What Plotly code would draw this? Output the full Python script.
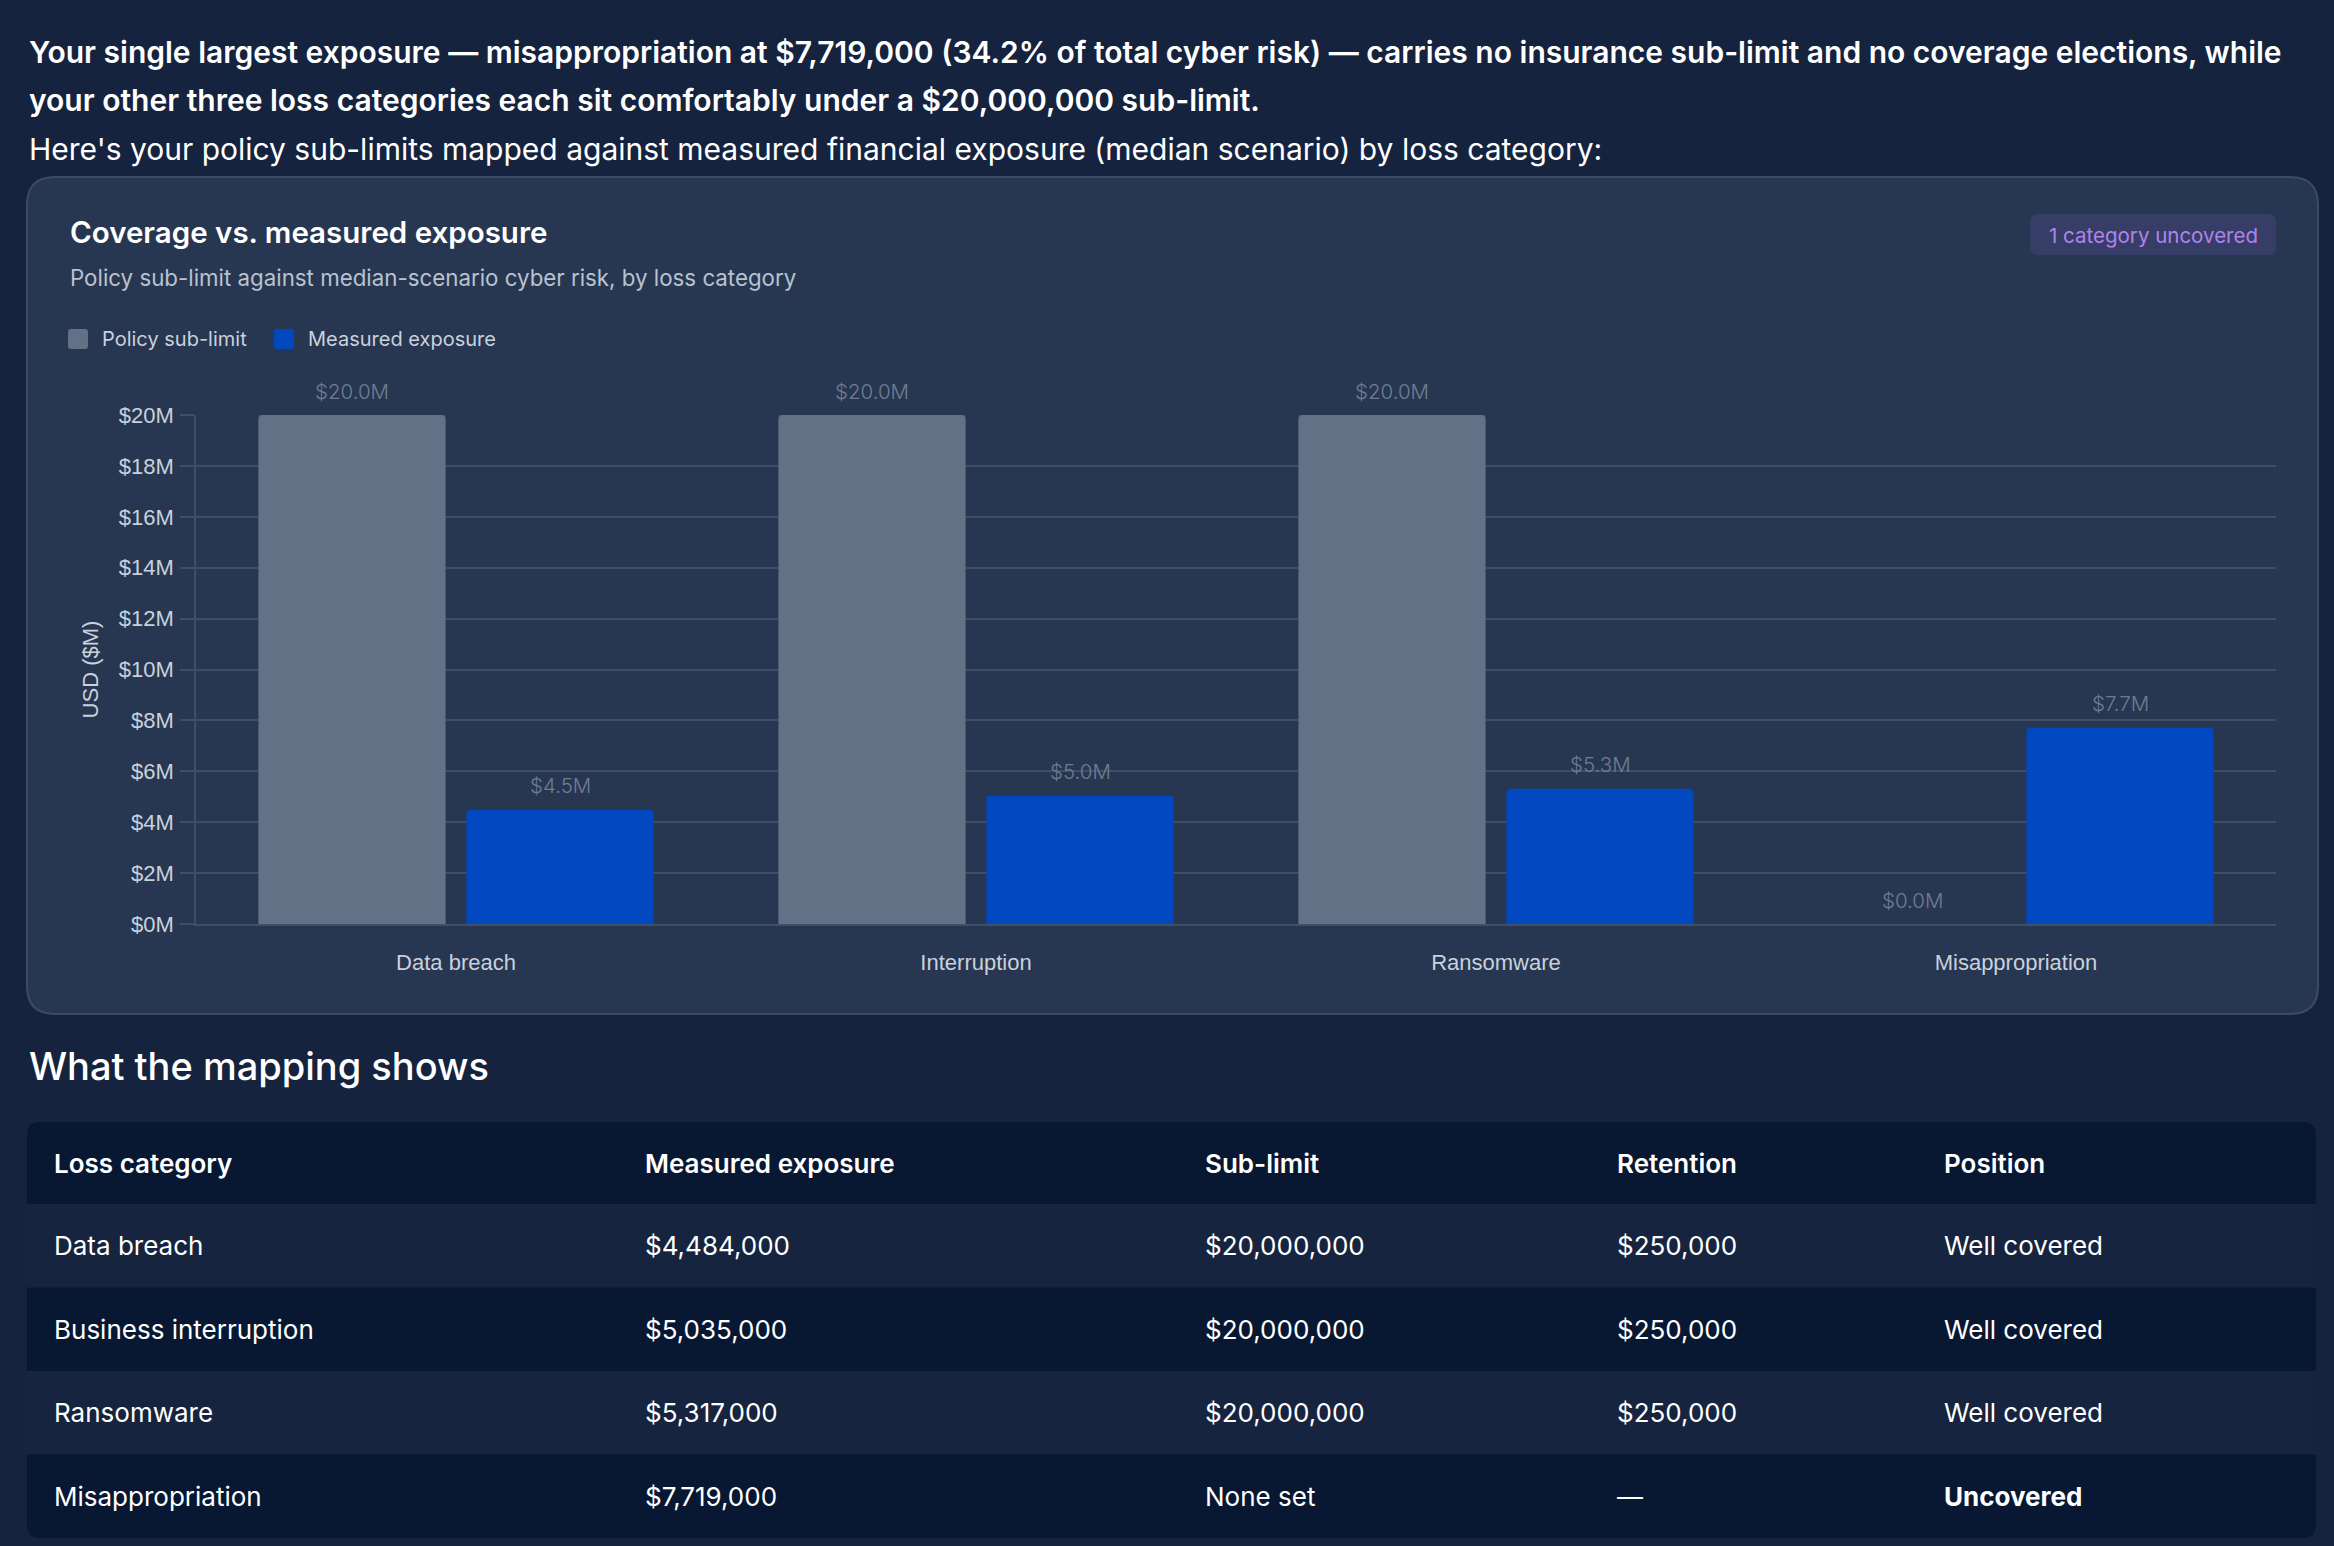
import plotly.graph_objects as go

W, H = 2334, 1546

# chart data ($M)
categories = ["Data breach", "Interruption", "Ransomware", "Misappropriation"]
series_names = ["Policy sub-limit", "Measured exposure"]
sub_limit = [20.0, 20.0, 20.0, 0.0]
measured = [4.484, 5.035, 5.317, 7.719]
y_ticks = [0, 2, 4, 6, 8, 10, 12, 14, 16, 18, 20]

# table data
table_header = ["Loss category", "Measured exposure", "Sub-limit", "Retention", "Position"]
table_category = ["Data breach", "Business interruption", "Ransomware", "Misappropriation"]
table_exposure = ["$4,484,000", "$5,035,000", "$5,317,000", "$7,719,000"]
table_sublimit = ["$20,000,000", "$20,000,000", "$20,000,000", "None set"]
table_retention = ["$250,000", "$250,000", "$250,000", "—"]
table_position = ["Well covered", "Well covered", "Well covered", "<b>Uncovered</b>"]

PAGE_BG = "#15233f"
CARD_BG = "#283751"
CARD_LINE = "#3d4a63"
GRID = "#3f4d66"
GREY_BAR = "#647086"
BLUE_BAR = "#0047c0"
AXIS_TXT = "#c9d1dc"
VALUE_TXT = "#6f7d93"
TABLE_DARK = "#081833"
TABLE_LIGHT = "#16243f"
BADGE_BG = "#363e67"
BADGE_TXT = "#b083ec"
TEXT_FONT = "Inter"
AXIS_FONT = "Liberation Sans"


def px(x):
    return x / W


def py(y):
    return 1 - y / H


def rounded_rect(x0, y0, x1, y1, r):
    # corners drawn with quadratic curves, built in pixels then mapped to paper
    pts = [
        ("M", [(x0 + r, y0)]),
        ("L", [(x1 - r, y0)]),
        ("Q", [(x1, y0), (x1, y0 + r)]),
        ("L", [(x1, y1 - r)]),
        ("Q", [(x1, y1), (x1 - r, y1)]),
        ("L", [(x0 + r, y1)]),
        ("Q", [(x0, y1), (x0, y1 - r)]),
        ("L", [(x0, y0 + r)]),
        ("Q", [(x0, y0), (x0 + r, y0)]),
    ]
    path = ""
    for cmd, coords in pts:
        path += cmd + " " + " ".join(f"{px(a):.5f},{py(b):.5f}" for a, b in coords) + " "
    return path + "Z"


def text(x, y, s, size, color="white", weight=400, anchor="left"):
    return dict(x=px(x), y=py(y), xref="paper", yref="paper", text=s, showarrow=False,
                xanchor=anchor, yanchor="middle",
                font=dict(family=TEXT_FONT, size=size, color=color, weight=weight))


x_idx = list(range(len(categories)))
bar_colors = [GREY_BAR, BLUE_BAR]

fig = go.Figure()
for name, vals, col in zip(series_names, [sub_limit, measured], bar_colors):
    fig.add_trace(go.Bar(
        x=x_idx, y=vals, name=name,
        marker=dict(color=col, line=dict(width=0)),
        hoverinfo="skip", showlegend=False,
    ))

annotations = []
shapes = []

# value labels above each bar (group slot = 0.4 wide, bars at i -/+ 0.2)
for i in x_idx:
    for off, val in ((-0.2, sub_limit[i]), (0.2, measured[i])):
        annotations.append(dict(
            x=i + off, y=val, xref="x", yref="y",
            text=f"${val:.1f}M", showarrow=False,
            yanchor="middle", yshift=24,
            font=dict(family=TEXT_FONT, size=20.5, color=VALUE_TXT, weight=300),
        ))

# page texts
annotations += [
    text(27, 52, "Your single largest exposure — misappropriation at $7,719,000 (34.2% of total cyber risk) — carries no insurance sub-limit and no coverage elections, while", 30, weight=600),
    text(27, 100, "your other three loss categories each sit comfortably under a $20,000,000 sub-limit.", 30, weight=600),
    text(27, 149, "Here's your policy sub-limits mapped against measured financial exposure (median scenario) by loss category:", 30),
    text(68, 232, "Coverage vs. measured exposure", 29.5, weight=600),
    text(68, 278, "Policy sub-limit against median-scenario cyber risk, by loss category", 22.3, color="#b9c2cf"),
    text(27, 1066, "What the mapping shows", 38, weight=500),
    text(2153, 235, "1 category uncovered", 20.5, color=BADGE_TXT, anchor="center"),
]

# card and badge
shapes += [
    dict(type="path", path=rounded_rect(27, 177, 2318, 1014, 28), xref="paper", yref="paper",
         fillcolor=CARD_BG, line=dict(color=CARD_LINE, width=2), layer="below"),
    dict(type="path", path=rounded_rect(2030, 214, 2276, 255, 8), xref="paper", yref="paper",
         fillcolor=BADGE_BG, line=dict(width=0), layer="below"),
]

# legend: rounded swatches + names
legend_x = [68, 274]
for lx, name, col in zip(legend_x, series_names, bar_colors):
    shapes.append(dict(type="path", path=rounded_rect(lx, 329, lx + 20, 349, 3), xref="paper", yref="paper",
                       fillcolor=col, line=dict(width=0), layer="below"))
    annotations.append(text(lx + 32, 339, name, 20, color=AXIS_TXT))

# table: dark base with rounded corners, light stripes, text per cell
tbl_left, tbl_right, tbl_top = 27, 2316, 1122
head_h, row_h = 82, 83.5
col_x = [52, 643, 1203, 1615, 1942]
n_rows = len(table_category)
tbl_bottom = tbl_top + head_h + n_rows * row_h
shapes.append(dict(type="path", path=rounded_rect(tbl_left, tbl_top, tbl_right, tbl_bottom, 13),
                   xref="paper", yref="paper", fillcolor=TABLE_DARK, line=dict(width=0), layer="below"))
for c, h in zip(col_x, table_header):
    annotations.append(text(c, tbl_top + head_h / 2, h, 26, weight=600))
columns = [table_category, table_exposure, table_sublimit, table_retention, table_position]
for r in range(n_rows):
    y0 = tbl_top + head_h + r * row_h
    if r % 2 == 0:
        shapes.append(dict(type="rect", x0=px(tbl_left), x1=px(tbl_right), y0=py(y0), y1=py(y0 + row_h),
                           xref="paper", yref="paper", fillcolor=TABLE_LIGHT, line=dict(width=0), layer="below"))
    for c, col in zip(col_x, columns):
        annotations.append(text(c, y0 + row_h / 2, col[r], 26))

fig.update_layout(
    width=W, height=H,
    # autoexpand off, otherwise the axis labels push the margins and shrink the paper area
    margin=dict(l=0, r=0, t=0, b=0, pad=0, autoexpand=False),
    paper_bgcolor=PAGE_BG, plot_bgcolor=CARD_BG,
    barmode="group", bargap=0.2, bargroupgap=0.1, barcornerradius=4,
    showlegend=False,
    annotations=annotations,
    shapes=shapes,
    xaxis=dict(
        domain=[px(196), px(2276)], range=[-0.5, 3.5], automargin=False,
        tickvals=x_idx, ticktext=categories, ticks="", ticklabelstandoff=18,
        showgrid=False, zeroline=False, showline=True, linecolor=GRID, linewidth=1.5,
        tickfont=dict(family=AXIS_FONT, size=22, color=AXIS_TXT),
        fixedrange=True,
    ),
    yaxis=dict(
        domain=[py(924), py(415)], range=[0, 20], automargin=False,
        tickvals=y_ticks, ticktext=[f"${v}M" for v in y_ticks],
        ticks="outside", ticklen=14, tickwidth=1.5, tickcolor=GRID, ticklabelstandoff=2,
        showgrid=True, gridcolor=GRID, gridwidth=1.5, zeroline=False,
        showline=True, linecolor=GRID, linewidth=1.5,
        tickfont=dict(family=AXIS_FONT, size=22, color=AXIS_TXT),
        title=dict(text="USD ($M)", standoff=14, font=dict(family=AXIS_FONT, size=22, color=AXIS_TXT)),
        fixedrange=True,
    ),
)

fig.write_html("out.html", config=dict(displayModeBar=False),
               post_script="document.body.style.margin='0';document.body.style.overflow='hidden';")
